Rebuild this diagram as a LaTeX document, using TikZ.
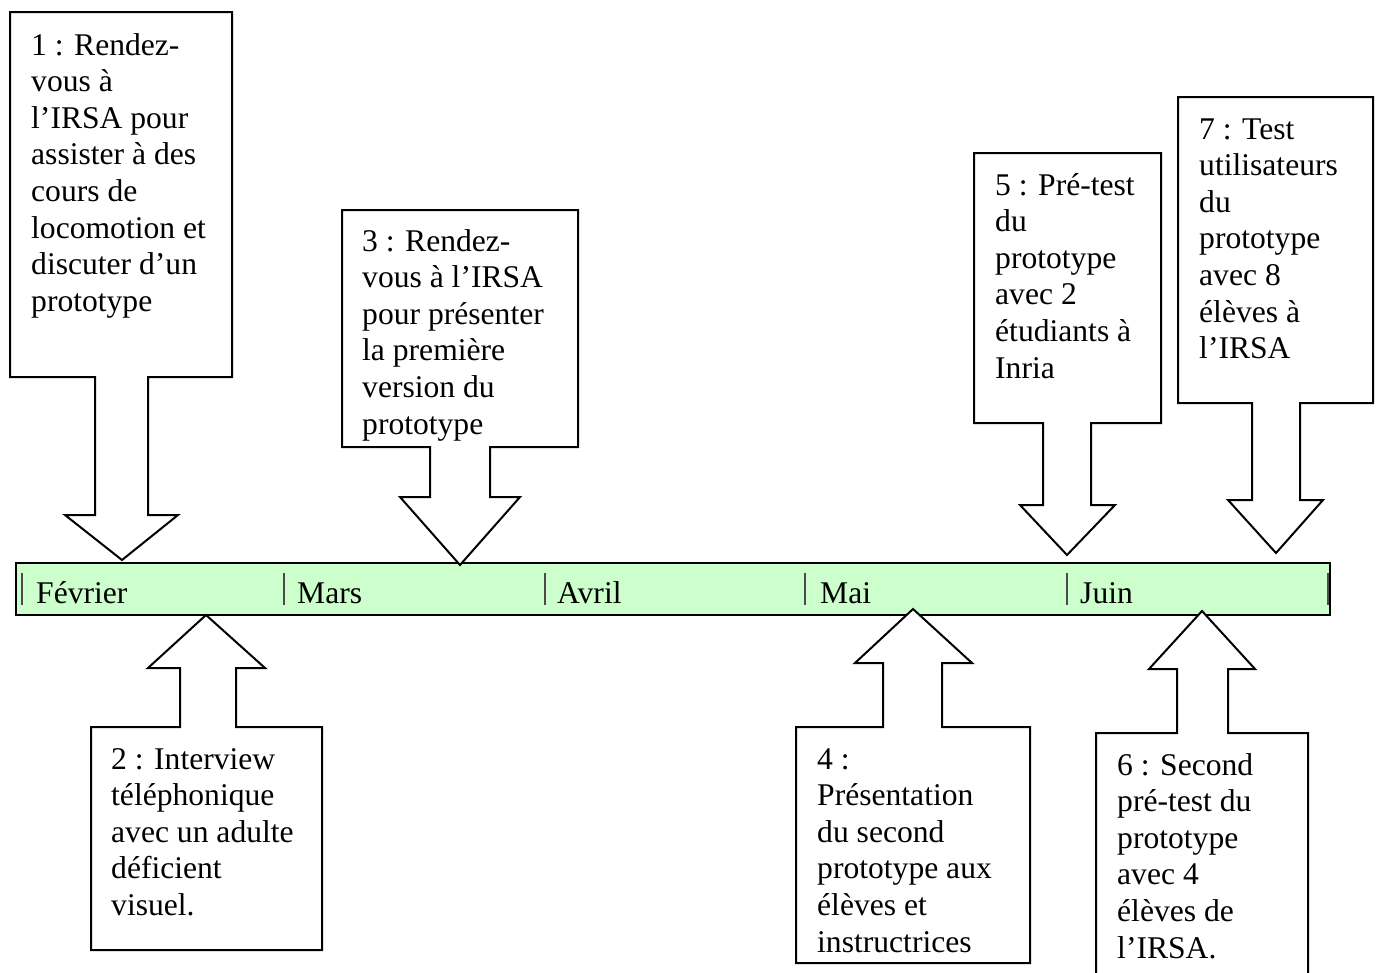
\documentclass[tikz,border=0pt]{standalone}
\usepackage{fontspec}
\setmainfont{Liberation Serif}
\tikzset{
  callout/.style={draw=black, fill=white, line width=2pt, line join=miter},
  bar/.style={draw=black, fill=barfill, line width=2pt},
  tick/.style={draw=black!70, line width=1.5pt},
  lbl/.style={anchor=base west, inner sep=0pt, font=\fontsize{31.6}{36.6}\selectfont},
}
\definecolor{barfill}{HTML}{CCFFCC}
\newcommand{\lines}[1]{\begin{tabular}[t]{@{}l@{}}#1\end{tabular}}
\begin{document}
\begin{tikzpicture}[x=1pt,y=-1pt]
\useasboundingbox (0,0) rectangle (1378,972);
\clip (0,0) rectangle (1378,972);
% timeline bar
\path[bar] (16,563) rectangle (1330,615);
\foreach \x in {22,284,545,805,1067,1328} \draw[tick] (\x,573) -- (\x,605);
\node[lbl] (feb) at (36,603) {Février};
\node[lbl] (mar) at (297,603) {Mars};
\node[lbl] (apr) at (557,603) {Avril};
\node[lbl] (may) at (820,603) {Mai};
\node[lbl] (jun) at (1080,603) {Juin};
% callout 1
\path[callout] (10,12) -- (232,12) -- (232,377) -- (148,377) -- (148,515) -- (178,515) -- (122,560) -- (65,515) -- (95,515) -- (95,377) -- (10,377) -- cycle;
% callout 2
\path[callout] (91,950) -- (322,950) -- (322,727) -- (236,727) -- (236,668) -- (265,668) -- (206,615) -- (148,668) -- (180,668) -- (180,727) -- (91,727) -- cycle;
% callout 3
\path[callout] (342,210) -- (578,210) -- (578,447) -- (490,447) -- (490,497) -- (520,497) -- (460,565) -- (400,497) -- (430,497) -- (430,447) -- (342,447) -- cycle;
% callout 4
\path[callout] (796,963) -- (1030,963) -- (1030,727) -- (942,727) -- (942,663) -- (972,663) -- (913,609) -- (855,663) -- (883,663) -- (883,727) -- (796,727) -- cycle;
% callout 5
\path[callout] (974,153) -- (1161,153) -- (1161,423) -- (1091,423) -- (1091,505) -- (1115,505) -- (1067,555) -- (1020,505) -- (1043,505) -- (1043,423) -- (974,423) -- cycle;
% callout 6
\path[callout] (1096,990) -- (1308,990) -- (1308,733) -- (1228,733) -- (1228,669) -- (1255,669) -- (1202,611) -- (1149,669) -- (1177,669) -- (1177,733) -- (1096,733) -- cycle;
% callout 7
\path[callout] (1178,97) -- (1373,97) -- (1373,403) -- (1300,403) -- (1300,500) -- (1323,500) -- (1276,553) -- (1228,500) -- (1252,500) -- (1252,403) -- (1178,403) -- cycle;
% texts
\node[lbl] (t1) at (31,55) {\lines{1 : Rendez-\\vous à\\l’IRSA pour\\assister à des\\cours de\\locomotion et\\discuter d’un\\prototype}};
\node[lbl] (t2) at (111,769) {\lines{2 : Interview\\téléphonique\\avec un adulte\\déficient\\visuel.}};
\node[lbl] (t3) at (362,251) {\lines{3 : Rendez-\\vous à l’IRSA\\pour présenter\\la première\\version du\\prototype}};
\node[lbl] (t4) at (817,769) {\lines{4 :\\Présentation\\du second\\prototype aux\\élèves et\\instructrices}};
\node[lbl] (t5) at (995,195) {\lines{5 : Pré-test\\du\\prototype\\avec 2\\étudiants à\\Inria}};
\node[lbl] (t6) at (1117,775) {\lines{6 : Second\\pré-test du\\prototype\\avec 4\\élèves de\\l’IRSA.}};
\node[lbl] (t7) at (1199,139) {\lines{7 : Test\\utilisateurs\\du\\prototype\\avec 8\\élèves à\\l’IRSA}};
\end{tikzpicture}
\end{document}
